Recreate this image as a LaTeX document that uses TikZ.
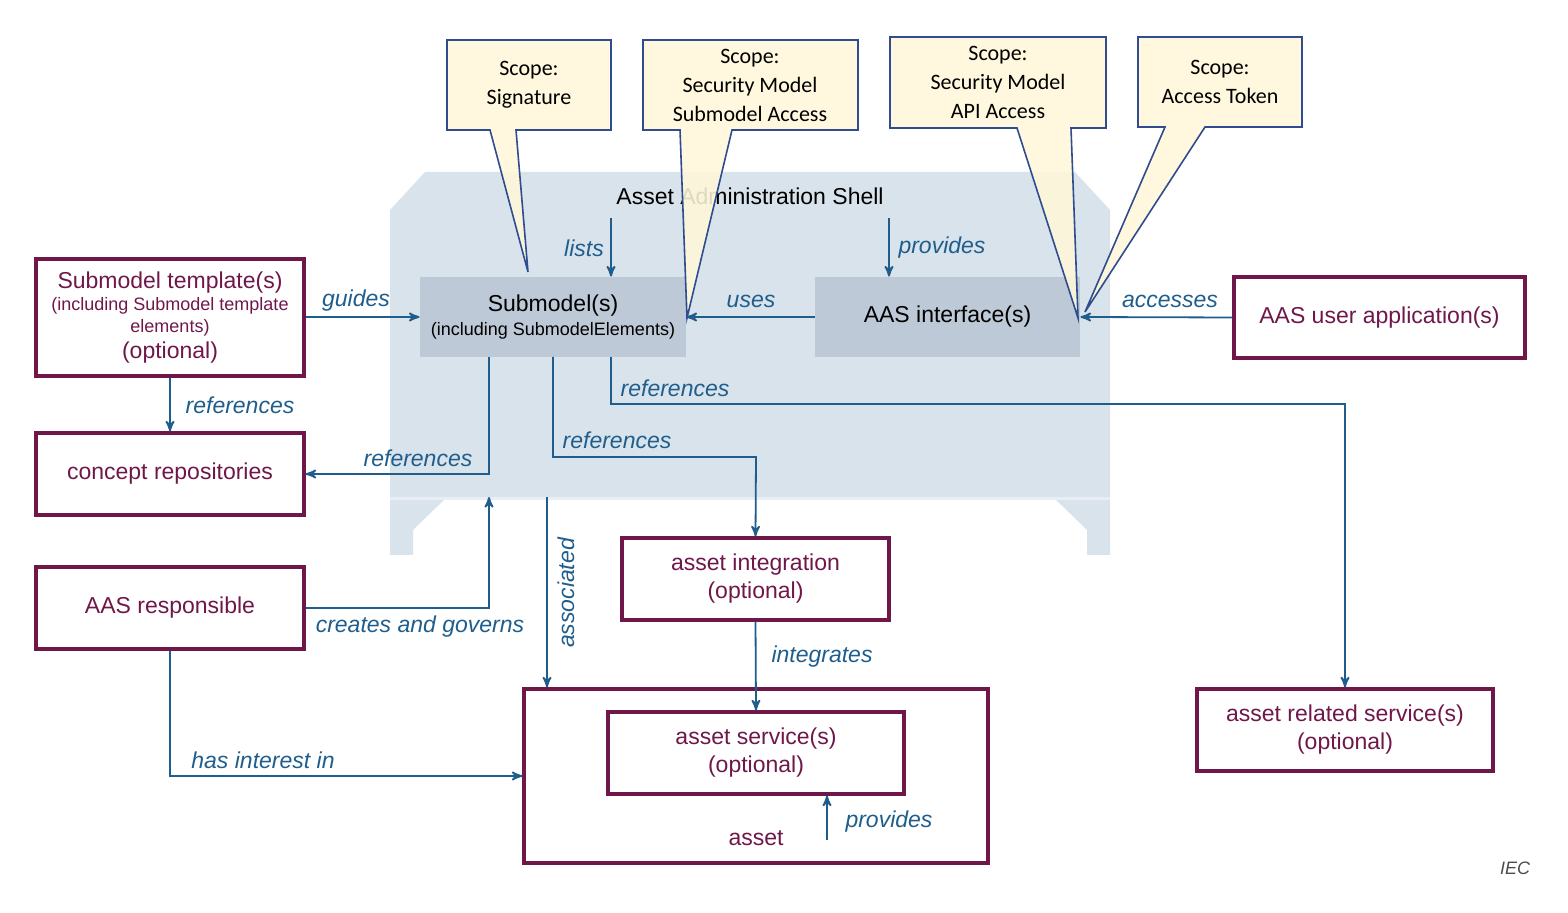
\documentclass[tikz,border=0pt]{standalone}
\usepackage{fontspec}
\setmainfont{Liberation Sans}
\newfontfamily\callfont{Carlito}
\usetikzlibrary{positioning}
\usetikzlibrary{arrows,intersections}
\definecolor{aasPurple}{rgb}{0.44,0.09,0.29}
\definecolor{aasBlue}  {rgb}{0.12,0.37,0.55}
\definecolor{aasShell} {rgb}{0.85,0.89,0.92}
\definecolor{aasGrey}  {rgb}{0.74,0.79,0.84}
\definecolor{aasNote}  {rgb}{1.0,0.97,0.85}
\definecolor{aasNoteLn}{rgb}{0.18,0.30,0.56}

\begin{document}
\begin{tikzpicture}
[x=0.5pt, y=-0.5pt, >=stealth', font=\fontsize{11.5}{13}\selectfont,
 box/.style={draw=aasPurple, line width=1.6pt, text=aasPurple, align=center, inner sep=0pt},
 part/.style={fill=aasGrey, align=center, inner sep=0pt},
 link/.style={->, draw=aasBlue, line width=0.9pt},
 lbl/.style={text=aasBlue, font=\fontsize{11.5}{13}\selectfont\itshape},
 note/.style={draw=aasNoteLn, fill=aasNote, fill opacity=0.88, line width=0.8pt},
 notetext/.style={align=center, font=\fontsize{11}{14.5}\selectfont\callfont}]

\useasboundingbox (0,0) rectangle (1568,913);

% Shell background:
\fill[aasShell] (390,210) -- (425,172) -- (1075,172) -- (1110,210) -- (1110,555) -- (1087,555)
  -- (1087,530) -- (1053,497) -- (447,497) -- (413,530) -- (413,555) -- (390,555) -- cycle;
\fill[aasShell!60!white] (390,497) rectangle (1110,500);
\node (shell) at (750,196) {Asset Administration Shell};

% Boxes:
\node[box, minimum width=134pt, minimum height=58.5pt] (smt) at (170,317.5)
  {Submodel template(s)\\[-2pt] {\fontsize{9}{10}\selectfont (including Submodel template}\\[-2pt]
   {\fontsize{9}{10}\selectfont elements)}\\ (optional)};
\node[box, minimum width=134pt, minimum height=41pt] (concept) at (170,474) {concept repositories};
\node[box, minimum width=134pt, minimum height=41pt] (resp) at (170,608) {AAS responsible};
\node[part, minimum width=133pt, minimum height=40pt] (submodel) at (553,317)
  {Submodel(s)\\[-1pt] {\fontsize{9}{10}\selectfont (including SubmodelElements)}};
\node[part, minimum width=132.5pt, minimum height=40pt] (aasif) at (947.5,317) {AAS interface(s)};
\node[box, minimum width=145.5pt, minimum height=40.5pt] (userapp) at (1379.5,317.5) {AAS user application(s)};
\node[box, minimum width=133.5pt, minimum height=41pt] (integ) at (755.5,579) {asset integration\\[1pt](optional)};
\node[box, minimum width=232pt, minimum height=87pt] (asset) at (756,776) {};
\node[box, minimum width=148pt, minimum height=41pt] (service) at (756,753) {asset service(s)\\[1pt](optional)};
\node[box, minimum width=148pt, minimum height=41pt] (related) at (1345,730) {asset related service(s)\\[1pt](optional)};
\node[text=aasPurple] (assetlbl) at (756,838) {asset};
\node[font=\fontsize{9}{10}\selectfont\itshape, text=black!70] (iec) at (1515,868) {IEC};

% Helper points:
\coordinate (listTop) at (611,218);
\coordinate (provTop) at (889,218);
\coordinate (shellBot) at (489,497);
\coordinate (assocTop) at (547,497);
\coordinate (provBot) at (827,840);

% Connectors:
\draw[link] (listTop) -- (listTop |- submodel.north);
\draw[link] (provTop) -- (provTop |- aasif.north);
\draw[link] (smt.east |- submodel.west) -- (submodel.west);
\draw[link] (aasif.west) -- (submodel.east);
\draw[link] (userapp.west) -- (aasif.east);
\draw[link] (smt.south) -- (concept.north);
\draw[link] (489,357) |- (concept.east);
\draw[link] (553,357) |- (756,457) -- (integ.north);
\draw[link] (611,357) |- (1345,404) -- (related.north);
\draw[link] (assocTop) -- (assocTop |- asset.north);
\draw[link] (resp.east) -| (shellBot);
\draw[link] (integ.south) -- (service.north);
\draw[link] (resp.south) |- (asset.west);
\draw[link] (provBot) -- (provBot |- service.south);

% Connector labels:
\node[lbl] (lLists) at (584,248) {lists};
\node[lbl] (lProv) at (942,248) {provides};
\node[lbl] (lGuides) at (356,301) {guides};
\node[lbl] (lUses) at (751,301) {uses};
\node[lbl] (lAcc) at (1170,301) {accesses};
\node[lbl] (lRefA) at (240,405) {references};
\node[lbl] (lRefB) at (418,458) {references};
\node[lbl] (lRefC) at (617,440) {references};
\node[lbl] (lRefD) at (675,388) {references};
\node[lbl, rotate=90] (lAssoc) at (566,593) {associated};
\node[lbl] (lCreates) at (420,627) {creates and governs};
\node[lbl] (lInteg) at (822,657) {integrates};
\node[lbl] (lInterest) at (263,760) {has interest in};
\node[lbl] (lProvB) at (889,822) {provides};

% Scope callouts:
\draw[note] (447,40) -- (611,40) -- (611,130) -- (516,130) -- (528,272) -- (490,130) -- (447,130) -- cycle;
\node[notetext] (sig) at (529,85) {Scope:\\Signature};
\draw[note] (643,40) -- (858,40) -- (858,130) -- (732,130) -- (687,318) -- (680,130) -- (643,130) -- cycle;
\node[notetext] (secsm) at (750,85) {Scope:\\Security Model\\Submodel Access};
\draw[note] (890,37) -- (1106,37) -- (1106,128) -- (1071,128) -- (1078,318) -- (1017,128) -- (890,128) -- cycle;
\node[notetext] (secapi) at (998,82) {Scope:\\Security Model\\API Access};
\draw[note] (1138,37) -- (1302,37) -- (1302,127) -- (1205,127) -- (1085,312) -- (1165,127) -- (1138,127) -- cycle;
\node[notetext] (token) at (1220,82) {Scope:\\Access Token};

\end{tikzpicture}
\end{document}
